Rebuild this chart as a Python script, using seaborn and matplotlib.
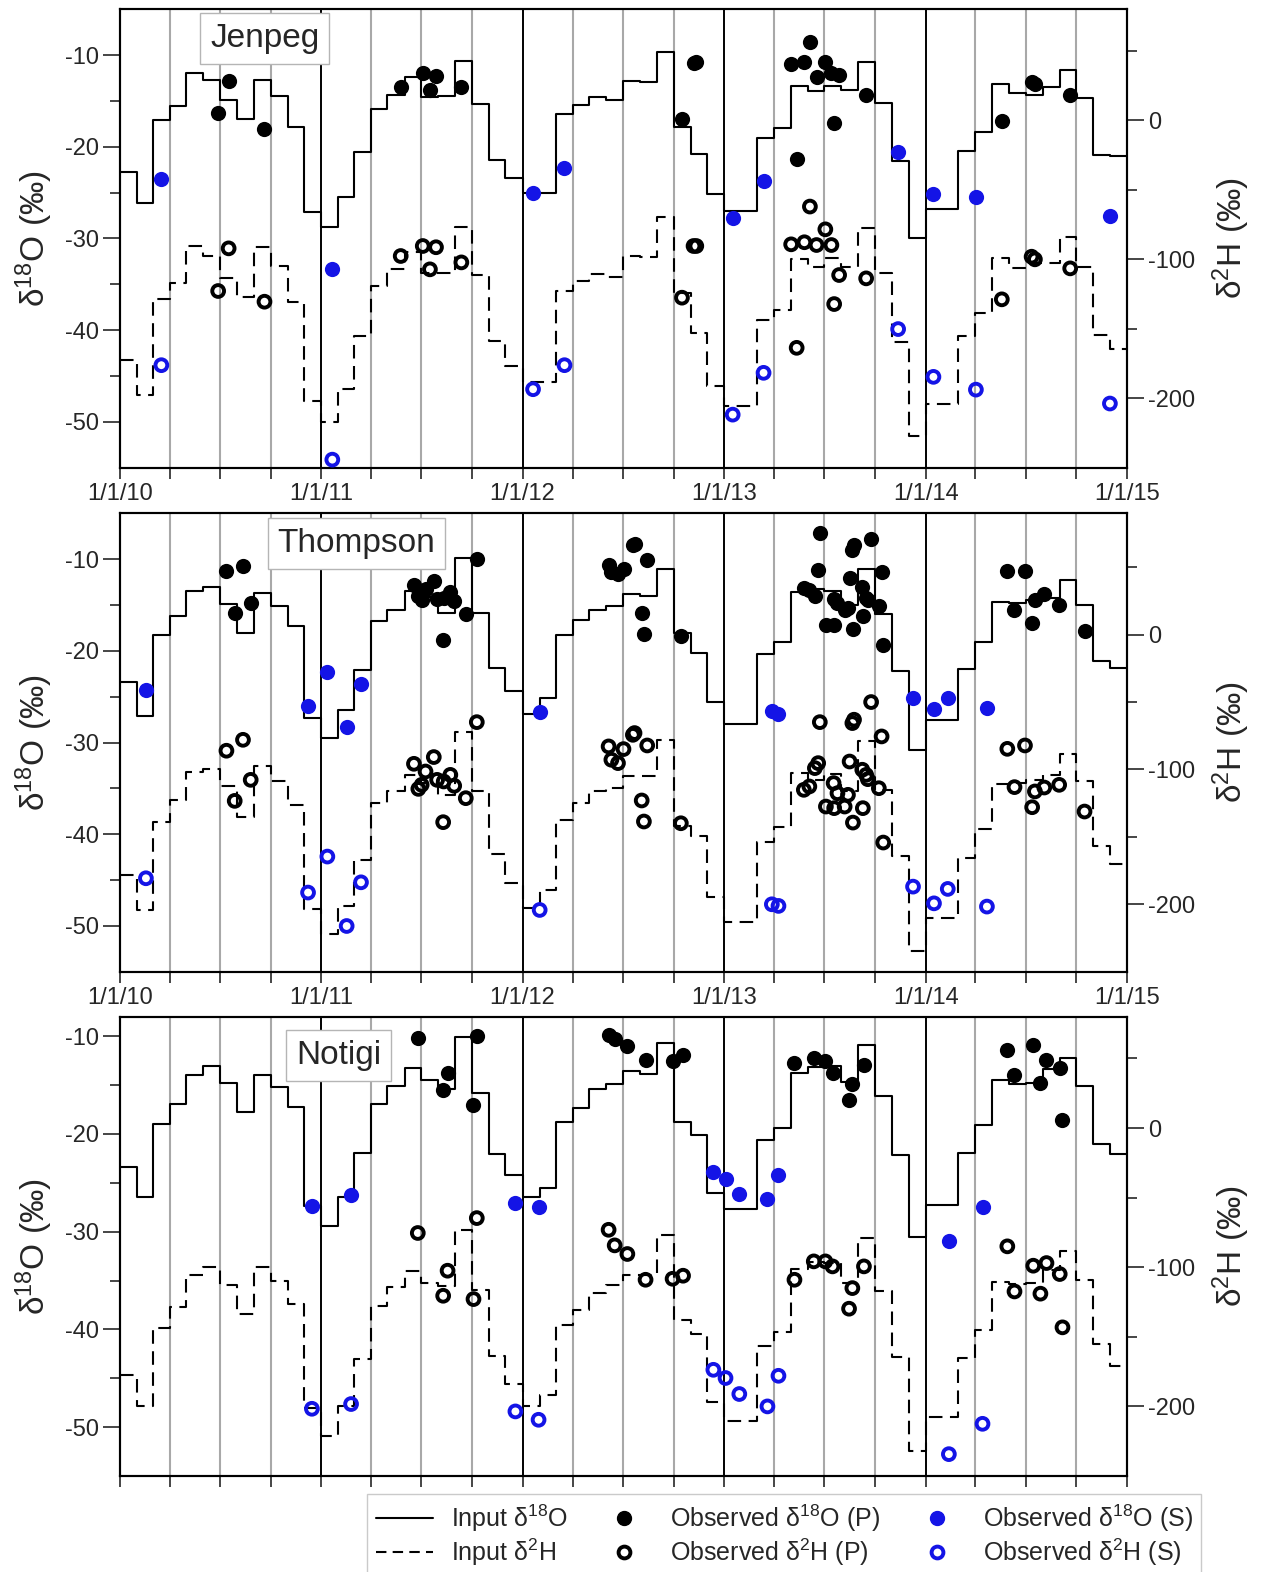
import numpy as np
import pandas as pd
import matplotlib
matplotlib.use("Agg")
import matplotlib.pyplot as plt
from matplotlib.lines import Line2D
from matplotlib.ticker import FixedLocator
import seaborn as sns

# ---------------------------------------------------------------- data
# Monthly input series, Jan 2010 .. Dec 2014 (60 values each)
jen_in_o18 = [-22.7, -26.1, -17.1, -15.6, -12.0, -12.7, -14.9, -17.0, -12.7, -14.5, -17.8, -27.1,
              -28.7, -25.5, -20.6, -15.9, -14.4, -12.4, -14.6, -14.5, -10.6, -15.3, -21.4, -23.4,
              -25.0, -25.0, -16.4, -15.4, -14.6, -14.9, -12.8, -12.9, -9.7, -17.8, -20.8, -25.1,
              -27.0, -27.0, -19.0, -18.0, -13.4, -13.9, -13.4, -13.8, -10.8, -15.2, -21.6, -29.9,
              -26.8, -26.8, -20.5, -18.4, -13.2, -14.1, -14.3, -13.5, -11.6, -14.7, -20.9, -21.0]
jen_in_h2 = [-172.6, -197.4, -128.8, -116.8, -90.4, -97.6, -113.2, -126.9, -90.9, -104.6, -130.5, -202.2,
             -217.1, -193.0, -155.3, -119.2, -107.2, -95.0, -110.1, -110.1, -76.9, -111.3, -158.9, -176.9,
             -188.2, -188.2, -122.8, -115.6, -110.6, -112.5, -97.6, -98.6, -69.2, -124.5, -152.9, -191.3,
             -205.8, -205.8, -143.8, -136.5, -100.0, -105.3, -99.3, -105.3, -77.2, -110.1, -159.4, -227.4,
             -203.8, -203.8, -155.3, -138.5, -99.3, -106.5, -102.9, -102.9, -83.7, -105.3, -154.6, -164.2]

tho_in_o18 = [-23.4, -27.1, -18.3, -16.2, -13.5, -13.0, -14.9, -18.1, -13.7, -15.1, -17.3, -27.3,
              -29.5, -26.5, -22.1, -16.7, -15.5, -13.5, -14.1, -15.9, -9.9, -15.9, -21.9, -24.4,
              -26.9, -25.2, -18.3, -16.6, -15.5, -15.1, -13.8, -14.0, -11.1, -18.1, -20.2, -25.6,
              -28.0, -28.0, -20.4, -19.0, -13.6, -13.3, -13.5, -15.0, -11.1, -16.0, -22.2, -30.8,
              -27.6, -27.6, -22.0, -19.0, -14.7, -14.8, -14.5, -14.2, -12.3, -15.0, -21.1, -21.9]
tho_in_h2 = [-178.2, -204.2, -138.6, -122.5, -102.2, -99.8, -112.6, -134.9, -97.3, -108.9, -126.2, -203.7,
             -222.3, -201.2, -167.1, -125.0, -116.3, -104.0, -109.7, -118.8, -72.5, -116.3, -162.6, -184.4,
             -203.0, -189.4, -137.4, -125.0, -116.3, -113.9, -104.7, -105.2, -78.5, -142.3, -149.0, -194.8,
             -212.9, -212.9, -154.0, -142.8, -102.7, -107.7, -103.0, -116.3, -79.2, -115.1, -163.9, -234.7,
             -210.4, -210.4, -165.8, -144.0, -110.6, -110.1, -108.0, -104.0, -88.4, -108.2, -156.4, -170.0]

not_in_o18 = [-23.4, -26.4, -19.0, -16.9, -14.0, -13.0, -14.8, -17.8, -14.0, -15.2, -17.2, -27.4,
              -29.4, -26.4, -21.9, -16.9, -15.1, -13.3, -14.5, -15.4, -10.1, -15.8, -22.0, -24.2,
              -26.4, -25.5, -18.8, -17.3, -15.4, -14.9, -13.6, -13.9, -10.7, -18.8, -20.1, -26.0,
              -27.7, -27.7, -20.6, -19.4, -13.8, -13.1, -13.0, -14.7, -10.9, -16.1, -22.2, -30.5,
              -27.3, -27.3, -21.9, -19.1, -14.5, -14.9, -14.8, -13.4, -12.2, -15.1, -21.0, -22.0]
not_in_h2 = [-177.7, -199.5, -143.7, -128.6, -105.9, -100.1, -112.6, -133.4, -99.9, -110.2, -126.2, -201.2,
             -221.1, -199.5, -166.0, -127.7, -114.5, -103.0, -111.4, -113.8, -73.1, -116.2, -164.1, -183.7,
             -200.0, -192.1, -141.8, -131.0, -118.6, -112.6, -105.4, -105.4, -77.1, -137.7, -147.8, -197.1,
             -210.3, -210.3, -156.4, -146.8, -101.3, -96.5, -97.0, -111.4, -79.0, -116.9, -164.8, -231.9,
             -207.7, -207.7, -165.3, -144.9, -110.7, -111.9, -111.4, -101.8, -88.6, -109.0, -155.2, -170.8]

# Observed samples (P)
jen_p_dates = ['2010-06-28', '2010-07-17', '2010-09-20', '2011-05-25', '2011-07-04', '2011-07-17',
               '2011-07-28', '2011-09-12', '2012-10-16', '2012-11-06', '2012-11-11', '2013-05-02',
               '2013-05-12', '2013-05-26', '2013-06-05', '2013-06-17', '2013-07-03', '2013-07-14',
               '2013-07-19', '2013-07-28', '2013-09-15', '2014-05-19', '2014-07-12', '2014-07-18',
               '2014-09-20']
jen_p_o18 = [-16.3, -12.8, -18.1, -13.5, -12.0, -13.8, -12.3, -13.5, -17.0, -10.9, -10.8, -11.0,
             -21.3, -10.7, -8.6, -12.4, -10.7, -12.0, -17.4, -12.2, -14.3, -17.2, -12.9, -13.1, -14.3]
jen_p_h2 = [-122.8, -92.1, -130.5, -97.6, -90.4, -107.2, -91.3, -102.2, -127.6, -90.4, -90.4, -89.2,
            -163.7, -87.7, -62.0, -89.7, -78.4, -89.7, -132.2, -111.3, -113.7, -128.8, -98.1, -100.0,
            -106.5]

tho_p_dates = ['2010-07-13', '2010-07-28', '2010-08-12', '2010-08-26',
               '2011-06-18', '2011-06-26', '2011-07-02', '2011-07-09', '2011-07-24', '2011-07-30',
               '2011-08-10', '2011-08-11', '2011-08-23', '2011-08-30', '2011-09-20', '2011-10-10',
               '2012-06-05', '2012-06-10', '2012-06-22', '2012-07-02', '2012-07-19', '2012-07-22',
               '2012-08-04', '2012-08-08', '2012-08-14', '2012-10-14',
               '2013-05-25', '2013-06-04', '2013-06-14', '2013-06-20', '2013-06-23', '2013-07-04',
               '2013-07-18', '2013-07-19', '2013-07-25', '2013-08-07', '2013-08-13', '2013-08-16',
               '2013-08-21', '2013-08-22', '2013-08-24', '2013-09-08', '2013-09-09', '2013-09-15',
               '2013-09-18', '2013-09-24', '2013-10-08', '2013-10-13', '2013-10-16',
               '2014-05-29', '2014-06-11', '2014-06-30', '2014-07-13', '2014-07-18', '2014-08-04',
               '2014-08-31', '2014-10-16']
tho_p_o18 = [-11.3, -15.9, -10.8, -14.8,
             -12.8, -14.0, -14.5, -13.3, -12.4, -14.3, -18.8, -14.2, -13.6, -14.6, -16.0, -10.0,
             -10.6, -11.4, -11.6, -11.1, -8.5, -8.4, -15.9, -18.2, -10.1, -18.4,
             -13.1, -13.4, -14.0, -11.2, -7.2, -17.2, -14.3, -17.2, -14.8, -15.6, -15.3, -12.1,
             -9.0, -17.6, -8.5, -13.0, -16.2, -14.2, -14.5, -7.8, -15.1, -11.4, -19.4,
             -11.3, -15.6, -11.3, -17.0, -14.5, -13.8, -15.0, -17.8]
tho_p_h2 = [-86.1, -123.3, -78.0, -107.7,
            -95.8, -114.4, -111.4, -101.5, -90.8, -107.7, -139.1, -108.9, -104.0, -112.1, -121.3, -64.9,
            -82.9, -92.8, -95.3, -84.9, -74.3, -73.0, -123.0, -138.6, -82.2, -139.9,
            -115.1, -112.6, -99.0, -95.3, -64.9, -127.5, -110.1, -128.7, -117.6, -127.5, -118.8, -94.1,
            -65.6, -139.4, -63.1, -100.2, -128.7, -104.0, -107.2, -50.0, -113.9, -75.5, -154.2,
            -84.7, -113.1, -82.2, -128.0, -116.3, -113.4, -111.4, -131.2]

not_p_dates = ['2011-06-25', '2011-08-10', '2011-08-18', '2011-10-04', '2011-10-10',
               '2012-06-05', '2012-06-16', '2012-07-09', '2012-08-11', '2012-09-29', '2012-10-18',
               '2013-05-08', '2013-06-12', '2013-07-03', '2013-07-16', '2013-08-15', '2013-08-21',
               '2013-09-11',
               '2014-05-29', '2014-06-11', '2014-07-15', '2014-07-28', '2014-08-08', '2014-09-01',
               '2014-09-06']
not_p_o18 = [-10.2, -15.5, -13.8, -17.0, -10.0,
             -9.9, -10.3, -11.0, -12.4, -12.5, -11.9,
             -12.7, -12.2, -12.5, -13.8, -16.5, -14.9, -12.9,
             -11.4, -14.0, -10.9, -14.8, -12.4, -13.3, -18.6]
not_p_h2 = [-75.4, -120.5, -102.5, -122.9, -64.7,
            -73.1, -84.3, -90.5, -109.0, -108.3, -106.1,
            -109.0, -95.8, -95.8, -99.4, -129.8, -115.0, -99.4,
            -85.0, -117.4, -98.9, -119.0, -97.0, -104.9, -143.2]

# Observed samples (S)
jen_s_dates = ['2010-03-17', '2011-01-21', '2012-01-20', '2012-03-17', '2013-01-16', '2013-03-13',
               '2013-11-12', '2014-01-15', '2014-04-02', '2014-12-01']
jen_s_o18 = [-23.5, -33.3, -25.0, -22.3, -27.8, -23.7, -20.6, -25.2, -25.5, -27.5]
jen_s_h2 = [-176.2, -244.2, -193.5, -176.2, -211.8, -181.7, -150.2, -184.6, -193.8, -203.8]

tho_s_dates = ['2010-02-17', '2010-12-08', '2011-01-12', '2011-02-16', '2011-03-14', '2012-02-01',
               '2013-03-28', '2013-04-09', '2013-12-09', '2014-01-16', '2014-02-10', '2014-04-22']
tho_s_o18 = [-24.3, -26.0, -22.3, -28.3, -23.6, -26.7, -26.6, -26.9, -25.2, -26.4, -25.2, -26.2]
tho_s_h2 = [-180.7, -191.3, -164.6, -216.1, -183.7, -204.2, -200.0, -201.2, -186.9, -199.3, -188.6, -201.7]

not_s_dates = ['2010-12-15', '2011-02-24', '2011-12-19', '2012-01-30', '2012-12-12', '2013-01-03',
               '2013-01-28', '2013-03-20', '2013-04-09', '2014-02-12', '2014-04-14']
not_s_o18 = [-27.4, -26.2, -27.1, -27.5, -23.9, -24.6, -26.1, -26.7, -24.2, -31.0, -27.5]
not_s_h2 = [-201.7, -198.3, -203.6, -209.6, -173.7, -179.6, -191.1, -200.0, -178.0, -234.3, -212.5]

stations = ['Jenpeg', 'Thompson', 'Notigi']
year_labels = ['1/1/10', '1/1/11', '1/1/12', '1/1/13', '1/1/14', '1/1/15']

# ---------------------------------------------------------------- style
sns.set_style("white")
plt.rcParams['font.family'] = ['Liberation Sans', 'DejaVu Sans']
plt.rcParams['mathtext.fontset'] = 'custom'
plt.rcParams['mathtext.rm'] = 'Liberation Sans'
plt.rcParams['mathtext.it'] = 'Liberation Sans:italic'
plt.rcParams['mathtext.bf'] = 'Liberation Sans:bold'
plt.rcParams['axes.unicode_minus'] = False

BLUE = '#1414e6'
GRID = '#a8a8a8'
TICK_FS = 17
LABEL_FS = 24
S_FILLED = 120
S_OPEN = 72
LW_OPEN = 2.8

W, H = 1266, 1572
fig = plt.figure(figsize=(W / 100, H / 100), dpi=100)

left = 120 / W
width = (1127 - 120) / W
panel_px = [(9.3, 467.7), (513.3, 971.7), (1016.7, 1476.0)]

month_edges = pd.date_range('2010-01-01', '2015-01-01', freq='MS')
quarters = pd.date_range('2010-01-01', '2015-01-01', freq='QS')

panels = [
    dict(name='Jenpeg', in_o18=jen_in_o18, in_h2=jen_in_h2,
         p_dates=jen_p_dates, p_o18=jen_p_o18, p_h2=jen_p_h2,
         s_dates=jen_s_dates, s_o18=jen_s_o18, s_h2=jen_s_h2,
         ylim=(-55, -5), ylim2=(-250, 80), box=(0.1438, 0.936), xlabels=True),
    dict(name='Thompson', in_o18=tho_in_o18, in_h2=tho_in_h2,
         p_dates=tho_p_dates, p_o18=tho_p_o18, p_h2=tho_p_h2,
         s_dates=tho_s_dates, s_o18=tho_s_o18, s_h2=tho_s_h2,
         ylim=(-55, -5), ylim2=(-250, 90), box=(0.2348, 0.935), xlabels=True),
    dict(name='Notigi', in_o18=not_in_o18, in_h2=not_in_h2,
         p_dates=not_p_dates, p_o18=not_p_o18, p_h2=not_p_h2,
         s_dates=not_s_dates, s_o18=not_s_o18, s_h2=not_s_h2,
         ylim=(-55, -8), ylim2=(-250, 80), box=(0.217, 0.915), xlabels=False),
]


def step_frame(vals):
    return pd.DataFrame({'date': month_edges, 'value': list(vals) + [vals[-1]]})


for (top_px, bot_px), p in zip(panel_px, panels):
    ax = fig.add_axes([left, 1 - bot_px / H, width, (bot_px - top_px) / H])
    ax2 = ax.twinx()

    # quarterly grid, black at year boundaries
    for q in quarters[1:-1]:
        if q.month == 1:
            ax.axvline(q, color='black', lw=1.4, zorder=0.6)
        else:
            ax.axvline(q, color=GRID, lw=1.5, zorder=0.5)

    # input series
    sns.lineplot(data=step_frame(p['in_o18']), x='date', y='value', ax=ax,
                 drawstyle='steps-post', color='black', lw=1.5, legend=False, zorder=2)
    sns.lineplot(data=step_frame(p['in_h2']), x='date', y='value', ax=ax2,
                 drawstyle='steps-post', color='black', lw=1.5, linestyle=(0, (6.5, 3.6)),
                 legend=False, zorder=2)

    # observed samples
    pdates = pd.to_datetime(p['p_dates'])
    sdates = pd.to_datetime(p['s_dates'])
    sns.scatterplot(x=pdates, y=p['p_o18'], ax=ax, color='black', s=S_FILLED,
                    linewidth=0, legend=False, zorder=4)
    sns.scatterplot(x=sdates, y=p['s_o18'], ax=ax, color=BLUE, s=S_FILLED,
                    linewidth=0, legend=False, zorder=4)
    sns.scatterplot(x=pdates, y=p['p_h2'], ax=ax2, color='black', facecolors='none',
                    edgecolor='black', s=S_OPEN, linewidth=LW_OPEN, legend=False, zorder=4)
    sns.scatterplot(x=sdates, y=p['s_h2'], ax=ax2, color=BLUE, facecolors='none',
                    edgecolor=BLUE, s=S_OPEN, linewidth=LW_OPEN, legend=False, zorder=4)

    # axes limits and ticks
    ax.set_xlim(month_edges[0], month_edges[-1])
    ax.set_ylim(*p['ylim'])
    ax2.set_ylim(*p['ylim2'])

    ax.set_xticks(quarters)
    if p['xlabels']:
        ax.set_xticklabels([year_labels[q.year - 2010] if q.month == 1 else '' for q in quarters])
    else:
        ax.set_xticklabels(['' for _ in quarters])
    ax.tick_params(axis='x', direction='out', length=8, width=1.2, labelsize=TICK_FS,
                   pad=3, bottom=True, top=False)

    ax.yaxis.set_major_locator(FixedLocator([-10, -20, -30, -40, -50]))
    ax.yaxis.set_minor_locator(FixedLocator([-15, -25, -35, -45]))
    ax.tick_params(axis='y', which='major', direction='out', length=12, width=1.2,
                   labelsize=TICK_FS, left=True, right=False, pad=3)
    ax.tick_params(axis='y', which='minor', direction='out', length=7, width=1.2,
                   left=True, right=False)

    ax2.yaxis.set_major_locator(FixedLocator([0, -100, -200]))
    ax2.yaxis.set_minor_locator(FixedLocator([50, -50, -150]))
    ax2.tick_params(axis='y', which='major', direction='out', length=12, width=1.2,
                    labelsize=TICK_FS, right=True, left=False, pad=3)
    ax2.tick_params(axis='y', which='minor', direction='out', length=7, width=1.2,
                    right=True, left=False)

    ax.set_xlabel('')
    ax.set_ylabel('δ$^{18}$O (‰)', fontsize=LABEL_FS, labelpad=7)
    ax2.set_ylabel('δ$^{2}$H (‰)', fontsize=LABEL_FS, labelpad=11)

    for a in (ax, ax2):
        for sp in a.spines.values():
            sp.set_linewidth(1.5)
            sp.set_color('black')

    ax2.text(p['box'][0], p['box'][1], p['name'], transform=ax.transAxes,
             ha='center', va='center', fontsize=24, zorder=10,
             bbox=dict(boxstyle='square,pad=0.3', fc='white', ec='#b5b5b5', lw=1.0))

# ---------------------------------------------------------------- legend
handles = [
    Line2D([], [], color='black', lw=1.5),
    Line2D([], [], color='black', lw=1.5, linestyle=(0, (5, 3))),
    Line2D([], [], ls='', marker='o', ms=10, mfc='black', mec='black'),
    Line2D([], [], ls='', marker='o', ms=8.5, mfc='none', mec='black', mew=2.8),
    Line2D([], [], ls='', marker='o', ms=10, mfc=BLUE, mec=BLUE),
    Line2D([], [], ls='', marker='o', ms=8.5, mfc='none', mec=BLUE, mew=2.8),
]
labels = ['Input δ$^{18}$O', 'Input δ$^{2}$H',
          'Observed δ$^{18}$O (P)', 'Observed δ$^{2}$H (P)',
          'Observed δ$^{18}$O (S)', 'Observed δ$^{2}$H (S)']
leg = fig.legend(handles, labels, ncol=3, loc='upper left',
                 bbox_to_anchor=(367 / W, 1 - 1494 / H), fontsize=18,
                 frameon=True, fancybox=False, handlelength=2.3, handletextpad=0.7,
                 columnspacing=1.1, labelspacing=0.1, borderpad=0.35, borderaxespad=0)
leg.get_frame().set_edgecolor('#bdbdbd')
leg.get_frame().set_linewidth(1.0)

fig.savefig('out.png', dpi=100)
